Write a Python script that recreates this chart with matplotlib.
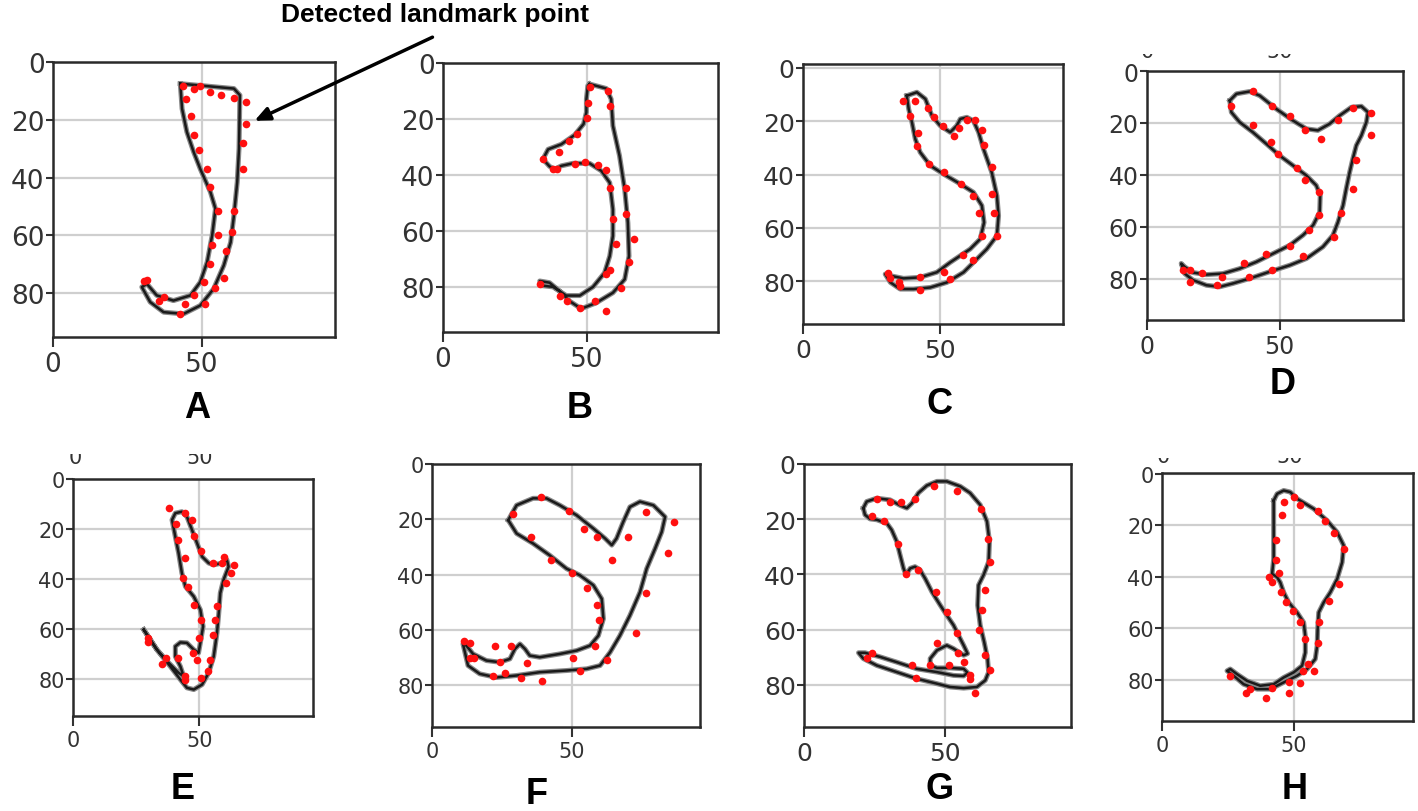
import matplotlib.pyplot as plt
from matplotlib.transforms import Bbox, TransformedBbox

# figure is 1418 x 812 px
W, H = 1418, 812

# ---- contour (x, y) and detected landmark points for each panel ----
A_line = [(42.7, 7.5), (60.7, 9.2), (62.7, 11.5), (62.4, 30.0), (61.8, 41.6), (60.7, 53.1),
          (59.6, 62.4), (57.3, 70.4), (53.9, 78.5), (49.4, 84.3), (43.8, 87.2), (37.1, 86.6),
          (32.6, 83.1), (29.8, 77.9), (31.5, 76.8), (34.8, 80.8), (40.4, 82.6), (46.1, 80.8),
          (49.4, 76.2), (51.7, 69.3), (53.4, 60.0), (54.5, 50.8), (52.8, 45.0), (49.4, 37.0),
          (47.2, 31.2), (44.9, 24.2), (43.3, 16.2)]
A_pts = [(43.6, 8.3), (47.2, 9.5), (49.2, 8.4), (52.6, 10.4), (56.2, 11.3), (60.7, 12.5),
         (64.6, 13.9), (64.6, 21.4), (63.8, 27.9), (63.8, 37.0), (60.7, 51.7), (59.9, 58.9),
         (58.2, 65.5), (57.3, 74.8), (54.5, 78.3), (51.1, 83.7), (44.7, 12.9), (46.4, 18.8),
         (47.2, 25.2), (49.1, 30.6), (51.7, 37.0), (52.6, 43.3), (55.3, 51.7), (55.3, 59.8),
         (53.4, 63.5), (52.6, 70.1), (50.8, 76.2), (47.4, 80.8), (44.4, 83.7), (42.7, 87.4),
         (37.1, 81.2), (35.6, 82.8), (30.6, 75.9), (31.7, 75.4)]

B_line = [(50.9, 7.5), (56.7, 9.1), (58.4, 12.9), (59.0, 22.4), (61.3, 33.1), (63.1, 45.1),
          (64.2, 57.0), (64.6, 68.9), (63.1, 77.2), (59.0, 82.0), (53.2, 85.6), (48.0, 87.7),
          (44.0, 85.0), (40.5, 81.4), (37.0, 78.4), (33.6, 77.8), (34.1, 79.4), (38.2, 79.9),
          (42.8, 83.0), (47.5, 83.0), (52.1, 79.9), (56.1, 74.9), (57.9, 68.9), (59.0, 61.7),
          (59.0, 52.2), (57.9, 42.7), (55.0, 38.5), (50.9, 35.8), (45.1, 35.8), (41.1, 36.7),
          (38.8, 37.9), (37.0, 36.9), (34.7, 34.3), (36.5, 30.8), (41.1, 29.0), (45.7, 25.7),
          (48.8, 21.8), (49.8, 17.6), (49.8, 12.9), (50.3, 8.1)]
B_pts = [(51.2, 8.7), (57.3, 9.9), (50.3, 14.1), (58.1, 15.3), (50.0, 19.8), (46.5, 25.4),
         (43.8, 27.8), (40.3, 31.7), (34.7, 34.3), (38.2, 37.9), (39.6, 37.9), (45.7, 36.1),
         (49.2, 35.5), (53.8, 36.5), (56.5, 38.1), (58.1, 44.5), (63.7, 44.5), (59.0, 55.5),
         (63.7, 53.8), (60.0, 64.7), (66.3, 62.7), (64.6, 70.9), (58.1, 73.9), (56.5, 75.4),
         (61.7, 80.2), (52.7, 85.0), (47.5, 87.4), (43.1, 85.0), (40.5, 83.2), (33.6, 79.0),
         (56.7, 88.6)]

C_line = [(38.0, 10.4), (41.7, 9.1), (44.8, 11.6), (47.2, 17.9), (50.2, 21.6), (53.9, 24.1),
          (56.3, 21.6), (57.6, 19.1), (60.0, 18.5), (62.4, 19.8), (64.3, 24.1), (66.1, 30.4),
          (69.1, 39.1), (71.0, 47.9), (71.6, 55.4), (71.0, 62.9), (67.3, 67.9), (63.7, 71.6),
          (58.8, 76.6), (52.7, 80.4), (46.6, 82.3), (40.5, 82.9), (35.6, 82.9), (32.0, 80.4),
          (30.1, 77.3), (32.0, 77.9), (36.8, 78.9), (42.9, 78.5), (49.0, 76.6), (53.9, 72.9),
          (61.2, 67.9), (64.9, 64.1), (66.3, 57.9), (65.5, 51.6), (62.4, 46.6), (57.6, 43.5),
          (51.5, 39.8), (46.6, 36.6), (42.9, 31.6), (41.1, 26.6), (39.9, 20.4), (38.7, 15.4)]
C_pts = [(36.5, 12.5), (40.9, 12.5), (45.6, 15.1), (48.0, 18.5), (51.1, 21.6), (55.4, 25.4),
         (57.0, 22.4), (60.0, 19.5), (63.0, 19.5), (65.5, 23.3), (66.3, 28.9), (69.1, 37.3),
         (69.1, 47.3), (70.1, 54.5), (71.2, 62.9), (64.5, 54.5), (65.5, 62.9), (62.1, 47.9),
         (57.8, 43.5), (51.7, 38.9), (46.3, 36.0), (41.7, 29.4), (42.0, 24.4), (39.3, 17.9),
         (58.5, 70.1), (62.1, 71.9), (51.8, 76.6), (53.7, 79.1), (42.9, 78.5), (42.9, 83.1),
         (35.6, 81.9), (35.0, 80.4), (31.3, 76.9), (32.0, 78.9)]

D_line = [(31.2, 11.4), (33.7, 8.8), (38.7, 7.9), (42.5, 9.5), (48.7, 14.6), (55.0, 19.1),
          (60.1, 22.3), (64.4, 22.9), (68.8, 20.4), (72.6, 17.2), (77.0, 14.0), (80.8, 13.6),
          (83.3, 15.9), (82.7, 19.7), (80.8, 24.9), (78.9, 28.7), (77.6, 33.8), (76.4, 39.0),
          (75.1, 45.4), (73.9, 51.8), (72.0, 58.2), (70.1, 63.3), (66.3, 67.8), (60.1, 72.3),
          (53.8, 74.9), (46.2, 77.4), (38.7, 80.0), (32.4, 81.9), (27.4, 83.2), (22.4, 82.6),
          (17.3, 80.6), (14.2, 78.1), (12.9, 74.2), (14.2, 75.5), (17.3, 77.7), (22.4, 78.5),
          (28.6, 78.1), (34.9, 76.2), (41.2, 73.6), (47.5, 70.4), (53.8, 67.2), (58.8, 63.3),
          (62.6, 59.5), (65.1, 54.4), (65.3, 47.9), (63.8, 44.1), (60.1, 40.3), (55.0, 36.4),
          (50.0, 32.6), (45.0, 28.1), (39.9, 23.6), (34.9, 19.7), (31.8, 15.9)]
D_pts = [(31.8, 13.6), (40.0, 7.9), (47.2, 13.6), (53.8, 17.2), (59.4, 22.7), (65.7, 26.4),
         (72.0, 18.8), (77.6, 14.4), (84.3, 16.3), (84.3, 24.6), (78.6, 34.5), (77.6, 45.6),
         (73.0, 54.7), (70.5, 64.0), (58.8, 71.3), (47.2, 76.8), (38.3, 79.6), (26.4, 82.6),
         (16.3, 81.5), (13.6, 76.8), (16.3, 76.8), (20.9, 77.7), (28.3, 79.6), (36.4, 74.2),
         (44.7, 70.4), (53.8, 67.6), (60.9, 61.2), (64.8, 55.6), (64.8, 46.7), (59.4, 41.9),
         (56.7, 37.3), (49.4, 31.9), (46.6, 27.4), (40.0, 21.0)]

E_line = [(28.0, 60.4), (33.2, 68.4), (38.5, 75.1), (42.5, 80.4), (45.1, 83.7), (47.8, 84.4),
          (51.1, 82.4), (53.7, 77.7), (55.7, 71.1), (57.0, 61.7), (57.7, 53.7), (58.3, 45.7),
          (59.6, 40.4), (61.6, 35.1), (60.9, 32.4), (59.0, 33.7), (55.7, 34.4), (53.7, 33.7),
          (51.1, 31.1), (49.1, 25.7), (47.1, 20.4), (45.1, 15.1), (43.1, 13.1), (40.5, 13.7),
          (39.2, 16.4), (40.5, 23.1), (41.8, 29.7), (43.1, 37.7), (44.5, 43.1), (47.8, 47.1),
          (50.4, 52.4), (51.5, 59.1), (50.4, 65.7), (49.7, 69.7), (47.8, 68.4), (45.1, 65.7),
          (42.5, 65.5), (40.5, 67.1), (40.5, 71.1), (42.5, 75.1), (43.8, 79.1), (41.8, 77.7),
          (37.9, 73.7), (33.2, 68.4), (29.3, 62.4)]
E_pts = [(38.1, 11.7), (44.2, 13.7), (47.1, 16.4), (40.8, 18.0), (48.0, 22.8), (41.6, 24.4),
         (50.8, 28.8), (44.5, 31.7), (55.3, 33.5), (59.0, 33.5), (59.9, 31.1), (63.6, 34.4),
         (62.7, 37.5), (60.7, 41.7), (43.4, 39.7), (45.4, 43.3), (48.0, 50.7), (57.0, 50.8),
         (50.8, 56.4), (56.3, 56.4), (50.0, 63.7), (55.3, 62.7), (29.7, 63.7), (29.7, 65.5),
         (41.6, 71.7), (47.4, 69.7), (49.1, 72.7), (54.4, 72.4), (53.4, 77.1), (35.2, 74.1),
         (36.8, 71.7), (44.5, 79.1), (44.5, 80.4), (50.8, 79.7)]

F_line = [(27.3, 20.3), (30.3, 14.9), (36.2, 12.4), (41.0, 12.4), (45.8, 14.9), (51.8, 18.5),
          (57.8, 23.3), (62.0, 26.9), (64.4, 29.3), (66.1, 26.9), (68.5, 20.9), (70.9, 15.5),
          (74.5, 13.6), (79.3, 14.9), (83.5, 19.1), (82.3, 24.5), (79.9, 30.6), (76.9, 37.8),
          (74.5, 46.3), (70.9, 54.7), (67.3, 62.0), (63.8, 68.0), (60.2, 72.8), (55.4, 74.0),
          (48.2, 74.6), (38.6, 75.2), (30.3, 76.4), (23.1, 77.1), (17.1, 75.8), (12.9, 72.8),
          (11.1, 65.0), (12.3, 65.6), (14.7, 68.6), (19.5, 71.0), (24.3, 71.6), (27.9, 70.4),
          (29.7, 66.8), (31.5, 65.0), (33.3, 66.8), (35.0, 69.2), (38.6, 69.8), (45.8, 68.6),
          (51.8, 67.4), (56.6, 65.6), (59.6, 62.0), (61.4, 55.9), (60.8, 48.7), (57.8, 43.8),
          (53.0, 40.2), (48.2, 37.8), (42.2, 33.0), (36.2, 28.7), (30.3, 25.1)]
F_pts = [(39.2, 11.8), (29.1, 18.2), (49.2, 17.0), (76.6, 17.3), (86.7, 21.1), (54.5, 23.6),
         (59.2, 26.3), (70.1, 26.3), (35.4, 26.3), (84.7, 32.0), (64.6, 34.5), (42.6, 34.5),
         (50.0, 39.3), (55.6, 44.7), (76.6, 46.5), (59.2, 50.8), (59.9, 56.5), (73.1, 61.0),
         (58.4, 65.6), (11.5, 63.8), (13.5, 64.6), (22.7, 65.6), (28.2, 65.6), (13.5, 70.0),
         (15.0, 70.0), (24.3, 71.6), (34.2, 71.9), (50.6, 70.2), (62.8, 70.8), (53.0, 74.6),
         (21.7, 76.7), (26.3, 75.6), (31.8, 77.4), (39.5, 78.3)]

G_line = [(21.1, 16.0), (22.3, 13.6), (25.9, 12.4), (30.6, 13.0), (34.2, 15.0), (36.6, 16.0),
          (38.4, 14.2), (40.7, 10.5), (43.7, 7.8), (47.3, 6.3), (50.8, 6.3), (55.6, 8.1),
          (59.1, 10.5), (62.7, 14.8), (65.1, 20.8), (66.0, 28.1), (65.7, 35.4), (63.9, 40.2),
          (62.1, 43.9), (61.8, 51.2), (62.7, 58.4), (64.1, 64.5), (65.3, 70.5), (65.7, 75.4),
          (64.5, 78.4), (61.5, 80.8), (56.8, 81.2), (52.0, 80.8), (47.3, 79.6), (40.1, 77.8),
          (33.0, 75.4), (25.9, 73.0), (21.1, 70.5), (19.4, 68.4), (21.7, 68.4), (27.1, 69.9),
          (33.0, 71.8), (40.1, 74.2), (47.3, 75.4), (53.2, 76.6), (56.8, 76.8), (58.2, 75.6),
          (56.8, 74.2), (52.0, 73.9), (47.3, 73.9), (44.9, 73.0), (44.9, 70.5), (47.3, 67.5),
          (50.8, 65.7), (53.2, 66.9), (56.8, 69.3), (58.2, 68.7), (56.8, 65.7), (55.6, 63.3),
          (53.2, 58.4), (50.8, 54.8), (48.5, 51.2), (45.5, 46.3), (43.1, 41.5), (41.3, 38.4),
          (39.5, 37.2), (37.8, 37.8), (36.3, 40.2), (35.4, 37.8), (34.2, 33.0), (33.0, 28.1),
          (31.2, 23.9), (29.5, 21.5), (25.9, 20.2), (23.5, 19.9), (21.7, 18.4)]
G_pts = [(26.1, 12.6), (30.6, 13.6), (34.4, 13.6), (39.5, 12.7), (46.3, 8.1), (54.6, 9.9),
         (62.9, 16.2), (65.4, 27.3), (66.3, 35.6), (64.5, 45.7), (63.5, 53.0), (62.4, 60.2),
         (64.5, 69.3), (66.3, 74.8), (58.9, 76.6), (58.9, 77.8), (60.9, 83.0), (24.3, 19.0),
         (28.6, 20.8), (33.6, 29.1), (36.2, 40.0), (40.4, 38.4), (47.0, 46.5), (50.8, 53.8),
         (54.4, 61.1), (47.3, 64.8), (54.8, 68.4), (57.0, 71.8), (51.7, 73.0), (44.7, 73.0),
         (38.6, 73.0), (39.8, 77.6), (22.3, 70.2), (24.3, 68.4)]

H_line = [(42.4, 10.3), (43.7, 7.7), (46.2, 6.4), (48.7, 7.0), (51.3, 9.6), (57.6, 13.5),
          (62.7, 18.1), (66.5, 22.6), (69.0, 27.8), (68.4, 34.3), (66.5, 40.8), (63.9, 46.0),
          (61.4, 49.9), (59.5, 53.8), (59.1, 60.3), (58.9, 66.8), (58.2, 71.9), (55.1, 75.8),
          (51.3, 78.4), (46.2, 81.0), (41.1, 83.6), (36.1, 83.6), (31.0, 81.7), (27.2, 78.4),
          (24.7, 76.5), (25.9, 75.8), (28.5, 77.8), (32.3, 80.4), (37.3, 82.3), (42.4, 81.7),
          (46.2, 79.1), (50.0, 77.1), (53.2, 74.5), (54.4, 69.4), (54.4, 62.9), (53.8, 57.7),
          (51.3, 53.8), (48.1, 49.9), (46.2, 46.0), (44.9, 42.1), (43.7, 40.1), (41.8, 38.8),
          (42.4, 33.0), (42.4, 22.6), (42.4, 14.8)]
H_pts = [(46.2, 10.9), (50.0, 9.0), (52.5, 11.9), (59.1, 14.5), (62.0, 18.1), (65.2, 22.9),
         (69.2, 29.1), (67.1, 42.7), (63.3, 49.2), (59.7, 57.7), (59.1, 65.7), (57.8, 76.5),
         (55.3, 73.9), (52.5, 81.3), (48.1, 81.0), (48.1, 85.2), (41.8, 83.0), (39.6, 86.9),
         (33.5, 83.4), (31.9, 85.3), (25.7, 78.4), (45.6, 16.1), (43.4, 25.5), (43.4, 33.6),
         (44.6, 38.4), (40.5, 40.1), (41.8, 42.1), (45.2, 45.7), (47.1, 49.9), (49.6, 53.4),
         (52.5, 57.7), (54.4, 64.2), (53.5, 76.5)]

x_ticks = [0, 50]
y_ticks = [0, 20, 40, 60, 80]

# name, contour, points, axes box in px (left, top, right, bottom),
# limits (xmax, ytop, ybottom), tick font size, letter position in px
panels = [
    ("A", A_line, A_pts, (53, 63, 335, 338), (94.6, 0, 95.2), 19, (197, 408)),
    ("B", B_line, B_pts, (443, 64, 718, 333), (95.5, 0, 96), 19, (580, 408)),
    ("C", C_line, C_pts, (803, 65, 1063, 325), (95.2, -1.5, 96), 18, (940, 405)),
    ("D", D_line, D_pts, (1147, 72, 1403, 321), (96.5, 0, 96), 17, (1283, 385)),
    ("E", E_line, E_pts, (73, 480, 313, 717), (95, 0, 95), 15, (183, 790)),
    ("F", F_line, F_pts, (432, 465, 700, 728), (96, 0, 95), 15, (537, 795)),
    ("G", G_line, G_pts, (804, 465, 1071, 728), (95, 0, 95.3), 18, (940, 790)),
    ("H", H_line, H_pts, (1162, 474, 1413, 722), (95.3, -0.4, 96), 15, (1295, 790)),
]

# bits of x tick labels cut off at the top of some screenshots:
# (x centre px, baseline px, clip top px, text)
cut_labels = [(75, 464, 455, "0"), (200, 464, 455, "50"),
              (1147, 58, 55, "0"), (1280, 58, 55, "50"),
              (1163, 463, 459, "0"), (1290, 463, 459, "50")]

fig = plt.figure(figsize=(W / 100, H / 100), dpi=100)

for name, line, pts, box, lims, fs, lab in panels:
    l, t, r, b = box
    ax = fig.add_axes([l / W, 1 - b / H, (r - l) / W, (b - t) / H])
    xs = [p[0] for p in line] + [line[0][0]]
    ys = [p[1] for p in line] + [line[0][1]]
    ax.plot(xs, ys, color="#888888", lw=3.6, solid_joinstyle="round", zorder=2)
    ax.plot(xs, ys, color="#1a1a1a", lw=1.8, solid_joinstyle="round", zorder=3)
    ax.plot([p[0] for p in pts], [p[1] for p in pts], "o", color="#ff1010",
            ms=5.5, mec="none", zorder=4)
    ax.set_xlim(0, lims[0])
    ax.set_ylim(lims[2], lims[1])
    ax.set_xticks(x_ticks)
    ax.set_yticks(y_ticks)
    ax.grid(True, color="#cfcfcf", lw=1.6, zorder=0)
    ax.set_axisbelow(True)
    ax.tick_params(axis="x", length=7, width=1.5, pad=3, labelsize=fs,
                   colors="#333333")
    ax.tick_params(axis="y", length=5, width=1.5, pad=1, labelsize=fs,
                   colors="#333333")
    for s in ax.spines.values():
        s.set_linewidth(1.8)
        s.set_color("#2a2a2a")
    fig.text(lab[0] / W, 1 - lab[1] / H, name, ha="center", va="center",
             fontsize=26, fontweight="bold", family="Liberation Sans")

for cx, base, top, s in cut_labels:
    txt = fig.text(cx / W, 1 - base / H, s, ha="center", va="baseline",
                   fontsize=15, color="#333333")
    clip = TransformedBbox(Bbox([[0, 0], [1, 1 - top / H]]), fig.transFigure)
    txt.set_clip_box(clip)
    txt.set_clip_on(True)

fig.text(435 / W, 1 - 15 / H, "Detected landmark point", ha="center", va="center",
         fontsize=19, fontweight="bold", family="Liberation Sans")
fig.add_artist(plt.Annotation("", xy=(252 / W, 1 - 123 / H), xycoords="figure fraction",
                              xytext=(435 / W, 1 - 37 / H), textcoords="figure fraction",
                              arrowprops=dict(arrowstyle="-|>,head_length=0.9,head_width=0.4",
                                              color="black", lw=2.5)))

fig.savefig("out.png", dpi=100)
